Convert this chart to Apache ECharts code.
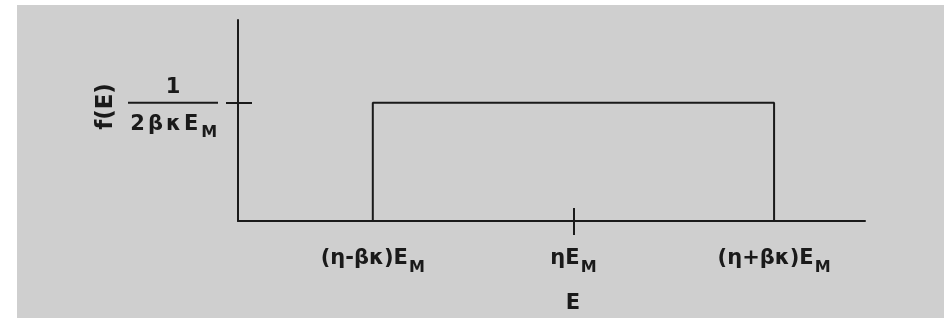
<!DOCTYPE html>
<html>
<head>
<meta charset="utf-8">
<script src="https://cdn.jsdelivr.net/npm/echarts@6/dist/echarts.min.js"></script>
<style>
html,body{margin:0;padding:0;background:#ffffff;}
#chart{width:944px;height:323px;}
</style>
</head>
<body>
<div id="chart"></div>
<script>
// ---- data (E in arbitrary units, f(E) normalised so that 1/(2βκE_M) = 1) ----
var eLow = 2.15;      // (η-βκ)E_M
var eMid = 5.35;      // ηE_M
var eHigh = 8.55;     // (η+βκ)E_M
var fHeight = 1;      // 1/(2βκE_M)
var eAxisMax = 10;
var fAxisMax = 1.7;
var xTickValues = [eLow, eMid, eHigh];
var xTickLabels = ['(η-βκ)E{s|M}', 'ηE{s|M}', '(η+βκ)E{s|M}'];
var yLabelText = '{n|1}\n{b| }\n{d|2}{d|β}{d|κ}{d|E}{ds|M}';

var rectData = [[eLow, 0], [eLow, fHeight], [eHigh, fHeight], [eHigh, 0]];

var ink = '#1a1a1a';
var font = '"DejaVu Sans", Arial, sans-serif';

var chart = echarts.init(document.getElementById('chart'), null, {renderer: 'canvas'});

function xAxisBase(extra) {
  var base = {
    type: 'value', min: 0, max: eAxisMax,
    splitLine: {show: false},
    axisLine: {show: true, onZero: false, lineStyle: {color: ink, width: 2}},
    axisTick: {show: true, customValues: [eMid], length: 14, lineStyle: {color: ink, width: 2}},
    axisLabel: {show: false}
  };
  return Object.assign(base, extra);
}

var option = {
  backgroundColor: '#ffffff',
  animation: false,
  graphic: [{
    type: 'rect', z: -10, silent: true,
    shape: {x: 17, y: 5, width: 927, height: 313},
    style: {fill: '#cfcfcf'}
  }],
  grid: {left: 238, right: 79, top: 20, bottom: 102, containLabel: false},
  xAxis: [
    xAxisBase({
      name: 'E',
      nameLocation: 'middle',
      nameGap: 72,
      nameTextStyle: {color: ink, fontFamily: font, fontWeight: 'bold', fontSize: 21, padding: [0, 0, 0, 43]},
      axisLabel: {
        show: true, customValues: xTickValues, margin: 25,
        color: ink, fontFamily: font, fontWeight: 'bold', fontSize: 21, lineHeight: 26,
        formatter: function (v) {
          var i = xTickValues.indexOf(v);
          return i >= 0 ? xTickLabels[i] : '';
        },
        rich: {s: {fontSize: 16, fontFamily: font, fontWeight: 'bold', color: ink, lineHeight: 26, padding: [17, 0, 0, 1]}}
      }
    }),
    xAxisBase({
      position: 'bottom',
      axisLine: {show: false},
      axisTick: {show: true, inside: true, customValues: [eMid], length: 13, lineStyle: {color: ink, width: 2}}
    })
  ],
  yAxis: [
    {
      type: 'value', min: 0, max: fAxisMax,
      splitLine: {show: false},
      axisLine: {show: true, onZero: false, lineStyle: {color: ink, width: 2}},
      axisTick: {show: true, customValues: [fHeight], length: 12, lineStyle: {color: ink, width: 2}},
      name: 'f(E)',
      nameLocation: 'middle',
      nameRotate: 90,
      nameGap: 120,
      nameTextStyle: {color: ink, fontFamily: font, fontWeight: 'bold', fontSize: 23, padding: [0, 0, 0, 28]},
      axisLabel: {
        show: true, customValues: [fHeight], margin: 20, padding: [14, 0, 0, 0],
        formatter: function () { return yLabelText; },
        rich: {
          n: {fontSize: 21, fontFamily: font, fontWeight: 'bold', color: ink, align: 'center', lineHeight: 26},
          b: {fontSize: 2, lineHeight: 4, height: 2, width: 90, backgroundColor: ink, align: 'center'},
          d: {fontSize: 21, fontFamily: font, fontWeight: 'bold', color: ink, align: 'center', lineHeight: 40, padding: [0, 1.5, 0, 1.5]},
          ds: {fontSize: 16, fontFamily: font, fontWeight: 'bold', color: ink, align: 'center', lineHeight: 40, padding: [17, 0, 0, 1.5]}
        }
      }
    },
    {
      type: 'value', min: 0, max: fAxisMax, position: 'left',
      splitLine: {show: false},
      axisLine: {show: false},
      axisLabel: {show: false},
      axisTick: {show: true, inside: true, customValues: [fHeight], length: 14, lineStyle: {color: ink, width: 2}}
    }
  ],
  series: [{
    type: 'line',
    data: rectData,
    showSymbol: false,
    symbol: 'none',
    lineStyle: {color: ink, width: 2},
    silent: true
  }]
};

chart.setOption(option);
</script>
</body>
</html>
